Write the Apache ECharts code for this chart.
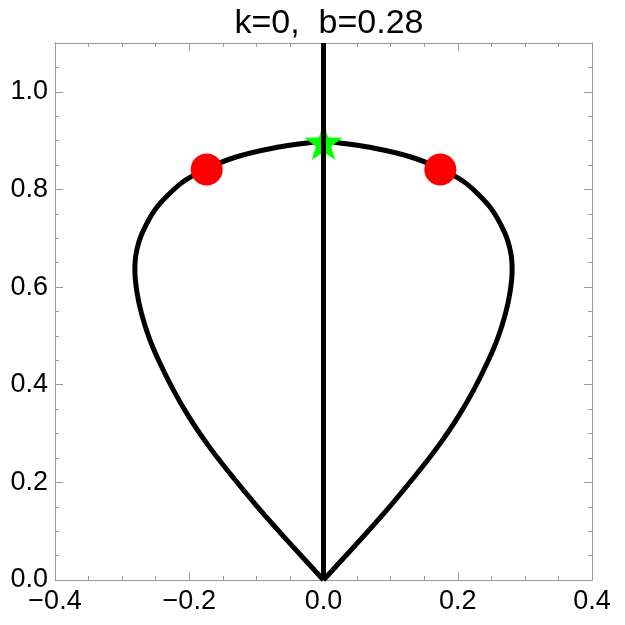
<!DOCTYPE html>
<html>
<head>
<meta charset="utf-8">
<script src="https://cdn.jsdelivr.net/npm/echarts@6/dist/echarts.min.js"></script>
<style>
  html, body { margin: 0; padding: 0; background: #fff; }
  #chart { width: 625px; height: 625px; }
</style>
</head>
<body>
<div id="chart"></div>
<script>
// teardrop curve, right half (bottom -> top) and left half (top -> bottom)
const rightX = [0, 0.048, 0.099, 0.148, 0.175, 0.200, 0.224, 0.245, 0.260, 0.271, 0.278, 0.281, 0.279, 0.270, 0.248, 0.212, 0.175, 0.129, 0.074, 0.014, 0];
const rightY = [0, 0.072, 0.151, 0.233, 0.282, 0.333, 0.390, 0.448, 0.497, 0.545, 0.590, 0.635, 0.670, 0.711, 0.764, 0.813, 0.842, 0.867, 0.885, 0.897, 0.898];
const leftX = [-0.014, -0.074, -0.129, -0.175, -0.212, -0.248, -0.270, -0.279, -0.281, -0.278, -0.271, -0.260, -0.245, -0.224, -0.200, -0.175, -0.148, -0.099, -0.048, 0];
const leftY = [0.897, 0.885, 0.867, 0.842, 0.813, 0.764, 0.711, 0.670, 0.635, 0.590, 0.545, 0.497, 0.448, 0.390, 0.333, 0.282, 0.233, 0.151, 0.072, 0];

// vertical line x = 0
const stemX = [0, 0];
const stemY = [0, 1.1];

// marked points
const dotX = [-0.174, 0.174];
const dotY = [0.841, 0.841];
const starX = [0];
const starY = [0.897];

const xTicks = [-0.4, -0.2, 0, 0.2, 0.4];
const yTicks = [0, 0.2, 0.4, 0.6, 0.8, 1.0];

const zip = (xs, ys) => xs.map((x, i) => [x, ys[i]]);
const curve = zip(rightX, rightY).concat(zip(leftX, leftY));

const fontFam = '"Liberation Sans", Arial, sans-serif';
const frame = '#999';
const fmt = v => {
  const hit = xTicks.concat(yTicks).some(t => Math.abs(t - v) < 1e-6);
  return hit ? v.toFixed(1).replace('-', '\u2212') : '';
};

const STAR = 'path://M0,-10L2.35,-3.24L9.51,-3.09L3.8,1.24L5.88,8.09L0,4L-5.88,8.09L-3.8,1.24L-9.51,-3.09L-2.35,-3.24Z';

const chart = echarts.init(document.getElementById('chart'), null, { renderer: 'canvas' });

const xBase = {
  type: 'value', min: -0.4, max: 0.4, interval: 0.2,
  axisLine: { show: true, onZero: false, lineStyle: { color: frame, width: 1 } },
  axisTick: { show: true, inside: true, length: 8, lineStyle: { color: frame } },
  minorTick: { show: true, splitNumber: 4, length: 4, lineStyle: { color: frame } },
  splitLine: { show: false }
};
const yBase = {
  type: 'value', min: 0, max: 1.1,
  axisLine: { show: true, onZero: false, lineStyle: { color: frame, width: 1 } },
  splitLine: { show: false }
};

chart.setOption({
  animation: false,
  backgroundColor: '#fff',
  title: {
    text: 'k=0,  b=0.28',
    left: 324, top: 2, textAlign: 'center',
    textStyle: { fontFamily: fontFam, fontSize: 34, fontWeight: 'normal', color: '#000' }
  },
  grid: { left: 55, right: 33, top: 43, bottom: 45 },
  xAxis: [
    Object.assign({}, xBase, {
      position: 'bottom',
      axisLabel: { show: true, margin: 8, formatter: fmt, color: '#000', fontFamily: fontFam, fontSize: 27 }
    }),
    Object.assign({}, xBase, { position: 'top', axisLabel: { show: false } })
  ],
  yAxis: [
    Object.assign({}, yBase, {
      position: 'left', interval: 0.2,
      axisTick: { show: true, inside: true, length: 8, lineStyle: { color: frame } },
      axisLabel: { show: true, margin: 7, formatter: fmt, color: '#000', fontFamily: fontFam, fontSize: 27 }
    }),
    Object.assign({}, yBase, {
      position: 'left', interval: 0.05,
      axisTick: { show: true, inside: true, length: 4, lineStyle: { color: frame } },
      axisLabel: { show: false }
    }),
    Object.assign({}, yBase, {
      position: 'right', interval: 0.2,
      axisTick: { show: true, inside: true, length: 8, lineStyle: { color: frame } },
      axisLabel: { show: false }
    }),
    Object.assign({}, yBase, {
      position: 'right', interval: 0.05,
      axisTick: { show: true, inside: true, length: 4, lineStyle: { color: frame } },
      axisLabel: { show: false }
    })
  ],
  series: [
    {
      type: 'line', data: curve, showSymbol: false, smooth: 0.25, z: 3,
      lineStyle: { color: '#000', width: 5 }
    },
    {
      type: 'scatter', data: zip(starX, starY), symbol: STAR, symbolSize: [38, 36], z: 4,
      itemStyle: { color: '#00ff00', opacity: 1 }
    },
    {
      type: 'line', data: zip(stemX, stemY), showSymbol: false, z: 5,
      lineStyle: { color: '#000', width: 5 }
    },
    {
      type: 'scatter', data: zip(dotX, dotY), symbol: 'circle', symbolSize: 32, z: 6,
      itemStyle: { color: '#ff0000', opacity: 1 }
    }
  ]
});
</script>
</body>
</html>
